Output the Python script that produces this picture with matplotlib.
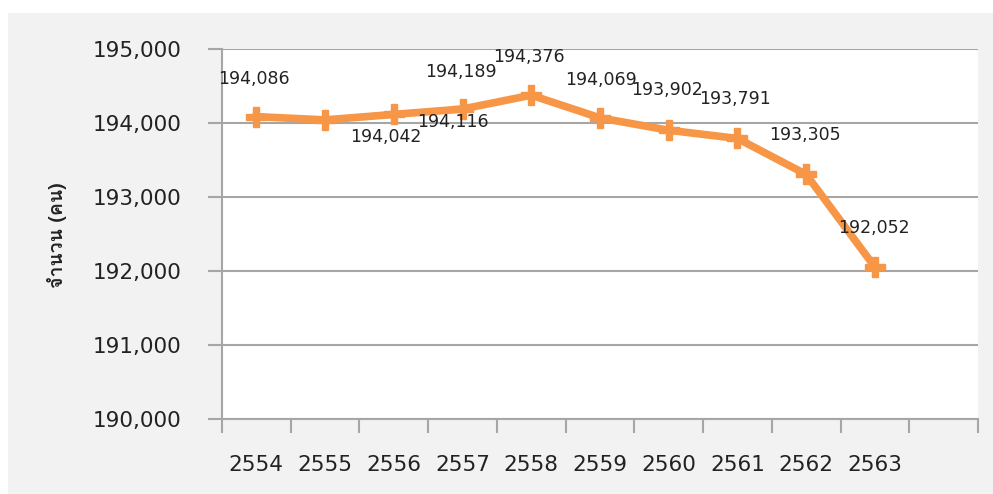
import matplotlib
matplotlib.use('Agg')
import matplotlib.pyplot as plt
from matplotlib import font_manager
from matplotlib.patches import Rectangle
from matplotlib.ticker import FuncFormatter, FixedLocator
from fontTools.ttLib import TTFont

# data
years = ['2554', '2555', '2556', '2557', '2558', '2559', '2560', '2561', '2562', '2563']
people = [194086, 194042, 194116, 194189, 194376, 194069, 193902, 193791, 193305, 192052]
ylabel = 'จำนวน (คน)'

# where each value label sits, in pixels from its point
label_offsets = [(-2, 38), (61, -17), (59, -8), (-2, 37), (-2, 38),
                 (1, 38), (-2, 40), (-2, 39), (-1, 39), (-1, 39)]


def thai_font():
    # look for any installed font that can draw Thai
    for f in font_manager.fontManager.ttflist:
        try:
            cmap = TTFont(f.fname, fontNumber=0, lazy=True).getBestCmap()
        except Exception:
            continue
        if cmap and 0x0E08 in cmap and 0x0E19 in cmap:
            return f.name
    return 'DejaVu Sans'


orange = '#F79646'
grid_col = '#A6A6A6'

fig = plt.figure(figsize=(9.93, 4.94), dpi=100)
fig.patches.append(Rectangle((8 / 993, 0), 1, 1 - 13 / 494, transform=fig.transFigure,
                             facecolor='#F2F2F2', edgecolor='none', zorder=-5))
ax = fig.add_axes([222 / 993, 1 - 419 / 494, (978 - 222) / 993, (419 - 49) / 494])
ax.set_zorder(2)
ax.set_facecolor('white')

x = list(range(len(years)))
ax.plot(x, people, color=orange, lw=5.5, marker='P', ms=15,
        mec=orange, mfc=orange, solid_joinstyle='round', zorder=3)

for xi, v, (dx, dy) in zip(x, people, label_offsets):
    ax.annotate(f'{v:,}', (xi, v), xytext=(dx, dy), textcoords='offset pixels',
                ha='center', va='center', fontsize=12.5, color='#222222', zorder=4)

ax.set_ylim(190000, 195000)
ax.set_yticks(range(190000, 195001, 1000))
ax.yaxis.set_major_formatter(FuncFormatter(lambda v, p: f'{int(v):,}'))
ax.grid(axis='y', color=grid_col, lw=1.5)
ax.set_axisbelow(True)

# category axis: 11 slots, ticks on the boundaries
ax.set_xlim(-0.5, len(years) + 0.5)
ax.xaxis.set_major_locator(FixedLocator([i - 0.5 for i in range(len(years) + 2)]))
ax.set_xticklabels([])
ax.set_xticks(x, minor=True)
ax.set_xticklabels(years, minor=True)
ax.tick_params(axis='x', which='major', length=10, width=1.5, color=grid_col)
ax.tick_params(axis='x', which='minor', length=0, pad=26, labelsize=15.5, labelcolor='#222222')
ax.tick_params(axis='y', length=10, width=1.5, color=grid_col, labelsize=15.5,
               labelcolor='#222222', pad=19)

for s in ['top', 'right']:
    ax.spines[s].set_visible(False)
ax.spines['left'].set_color(grid_col)
ax.spines['left'].set_linewidth(1.5)
ax.spines['bottom'].set_color(grid_col)
ax.spines['bottom'].set_linewidth(1.5)

fig.text(57 / 993, 1 - 235 / 494, ylabel, rotation=90, ha='center', va='center',
         fontsize=14, fontweight='bold', family=[thai_font(), 'DejaVu Sans'], color='#222222')

plt.savefig('out.png', dpi=100)
